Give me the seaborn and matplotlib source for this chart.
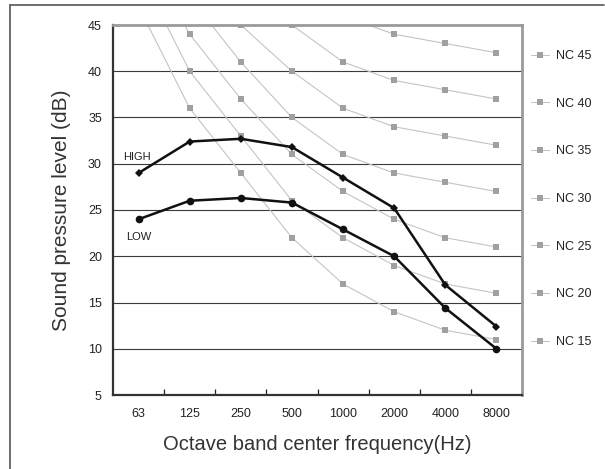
import numpy as np
import pandas as pd
import seaborn as sns
import matplotlib.pyplot as plt
from matplotlib.lines import Line2D

# octave bands and NC reference curves
freqs = ['63', '125', '250', '500', '1000', '2000', '4000', '8000']
nc_names = ['NC 15', 'NC 20', 'NC 25', 'NC 30', 'NC 35', 'NC 40', 'NC 45']
nc15 = [47, 36, 29, 22, 17, 14, 12, 11]
nc20 = [51, 40, 33, 26, 22, 19, 17, 16]
nc25 = [54, 44, 37, 31, 27, 24, 22, 21]
nc30 = [57, 48, 41, 35, 31, 29, 28, 27]
nc35 = [60, 52, 45, 40, 36, 34, 33, 32]
nc40 = [64, 56, 50, 45, 41, 39, 38, 37]
nc45 = [67, 60, 54, 49, 46, 44, 43, 42]

# measured levels
high = [29, 32.4, 32.7, 31.8, 28.5, 25.2, 16.9, 12.4]
low = [24, 26.0, 26.3, 25.8, 22.9, 20.0, 14.4, 10.0]

nc_rows = []
for name, vals in zip(nc_names, [nc15, nc20, nc25, nc30, nc35, nc40, nc45]):
    for f, v in zip(freqs, vals):
        nc_rows.append({'freq': f, 'level': v, 'curve': name})
nc_df = pd.DataFrame(nc_rows)

meas_df = pd.DataFrame({
    'freq': freqs * 2,
    'level': high + low,
    'series': ['HIGH'] * len(high) + ['LOW'] * len(low),
})

sns.set_style('white')
plt.rcParams['font.family'] = ['Liberation Sans', 'DejaVu Sans']

fig = plt.figure(figsize=(6.05, 4.69), dpi=100)
ax = fig.add_axes([113/605, 1-395/469, (522-113)/605, (395-25)/469])

line_gray = '#c4c4c4'
mark_gray = '#a0a0a0'

sns.pointplot(data=nc_df, x='freq', y='level', hue='curve', order=freqs,
              palette=[line_gray]*len(nc_names), markers='s', errorbar=None,
              legend=False, linewidth=0.8, markersize=4.2, markeredgewidth=0,
              markerfacecolor=mark_gray, ax=ax)

sns.pointplot(data=meas_df, x='freq', y='level', hue='series', order=freqs,
              palette=['#111111', '#111111'], markers=['D', 'o'], errorbar=None,
              legend=False, linewidth=1.8, markersize=5.5, markeredgewidth=0,
              ax=ax)
# diamonds a bit smaller
for ln in ax.lines[-2:]:
    if ln.get_marker() == 'D':
        ln.set_markersize(4.0)

ax.set_xlim(-0.5, len(freqs) - 0.5)
ax.set_ylim(5, 45)
ax.set_yticks(range(5, 50, 5))
for y in range(10, 45, 5):
    ax.axhline(y, color='#3a3a3a', lw=0.8, zorder=0.5)

ax.set_xticks(np.arange(0.5, len(freqs) - 1, 1.0), minor=True)
ax.tick_params(axis='x', which='minor', direction='in', length=4, width=0.9, color='#222222', bottom=True)
ax.tick_params(axis='x', which='major', length=0, pad=9, labelsize=9, labelcolor='#222222')
ax.tick_params(axis='y', length=0, pad=8, labelsize=9, labelcolor='#222222')

for s in ['left', 'bottom']:
    ax.spines[s].set_color('#333333')
    ax.spines[s].set_linewidth(1.6)
for s in ['top', 'right']:
    ax.spines[s].set_color('#9a9a9a')
    ax.spines[s].set_linewidth(2.0)

ax.set_xlabel('Octave band center frequency(Hz)', fontsize=14.5, color='#333333', labelpad=11)
ax.set_ylabel('Sound pressure level (dB)', fontsize=15, color='#333333', labelpad=12)

ax.text(-0.3, 30.7, 'HIGH', fontsize=8, color='#222222', va='center', ha='left')
ax.text(-0.25, 22.1, 'LOW', fontsize=8, color='#222222', va='center', ha='left')

handles = [Line2D([], [], color=line_gray, lw=0.8, marker='s', markersize=4.2,
                  markeredgewidth=0, markerfacecolor=mark_gray) for _ in nc_names]
fig.legend(handles[::-1], nc_names[::-1], loc='upper left', frameon=False,
           bbox_to_anchor=(525/605, 1-44/469), fontsize=9, handlelength=1.4,
           handletextpad=0.6, labelspacing=2.85, borderpad=0, labelcolor='#222222')

# outer frame (left and top edges)
fig.add_artist(Line2D([10/605, 10/605], [0, 1-5/469], transform=fig.transFigure,
                      color='#555555', lw=1.2))
fig.add_artist(Line2D([10/605, 604/605], [1-5/469, 1-5/469], transform=fig.transFigure,
                      color='#555555', lw=1.2))

fig.savefig('out.png', dpi=100)
